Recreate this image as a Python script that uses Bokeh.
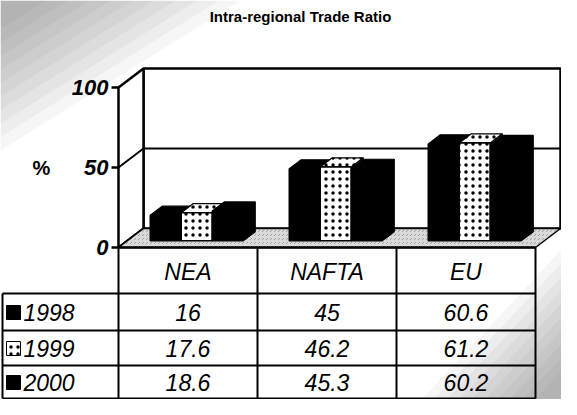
from bokeh.plotting import figure
from bokeh.models import Range1d
from bokeh.core.properties import value
from bokeh.embed import file_html
from bokeh.resources import INLINE

# ---------------- data ----------------
categories = ["NEA", "NAFTA", "EU"]
years = ["1998", "1999", "2000"]
v1998 = [16, 45, 60.6]
v1999 = [17.6, 46.2, 61.2]
v2000 = [18.6, 45.3, 60.2]
y_ticks = [0, 50, 100]
y_tick_labels = ["0", "50", "100"]
y_max = 100
title = "Intra-regional Trade Ratio"
y_title = "%"

# ---------------- layout (pixels) ----------------
W, H = 561, 399
PX_X = 139.0          # pixels per category
PX_Y = 1.6            # pixels per percent
X0 = 118              # front axis position (canvas px)
Y0 = 247              # zero line position (canvas px)
DEPTH_X, DEPTH_Y = 25, 19   # 3D depth offset (px)

DX = DEPTH_X / PX_X
DY = DEPTH_Y / PX_Y
FONT = value("Liberation Sans")

p = figure(width=W, height=H, output_backend="svg", toolbar_location=None,
           x_range=Range1d(-X0 / PX_X, (W - X0) / PX_X),
           y_range=Range1d(-(H - Y0) / PX_Y, Y0 / PX_Y),
           min_border=0)
p.axis.visible = False
p.grid.visible = False
p.outline_line_color = None
p.background_fill_color = "white"

n = len(categories)

def cy(py):  # canvas y px -> value units
    return (Y0 - py) / PX_Y

def cx(px):  # canvas x px -> category units
    return (px - X0) / PX_X

# background shading at corners (scan texture)
for k in range(10):
    s = 1 - k * 0.09
    p.patch([cx(0), cx(240 * s), cx(0)], [cy(0), cy(0), cy(150 * s)],
            fill_color="#555555", fill_alpha=0.05, line_color=None)
    p.patch([cx(W), cx(W - 140 * s), cx(W)], [cy(H), cy(H), cy(H - 150 * s)],
            fill_color="#555555", fill_alpha=0.05, line_color=None)

# ---- walls ----
LW = 2.5
p.patch([DX, n + DX, n + DX, DX], [DY, DY, y_max + DY, y_max + DY],
        fill_color="white", line_color="black", line_width=LW)
p.patch([0, DX, DX, 0], [0, DY, y_max + DY, y_max],
        fill_color="white", line_color="black", line_width=LW)
p.patch([0, n, n + DX, DX], [0, 0, DY, DY],
        fill_color="#dadada", line_color="black", line_width=1.5,
        hatch_pattern=",", hatch_color="#666666", hatch_scale=4, hatch_alpha=0.5)
p.line([0, n], [0, 0], line_color="black", line_width=LW)
for t in y_ticks[1:-1]:
    p.line([0, DX, n + DX], [t, t + DY, t + DY], line_color="black", line_width=2)

# ---- bars ----
F0 = 0.35     # depth fraction where bar fronts sit
FD = 0.48     # bar depth fraction
BW = 31 / PX_X
series = [v1998, v1999, v2000]
styles = [dict(fill_color="black"),
          dict(fill_color="white", hatch_pattern=".", hatch_color="black",
               hatch_scale=7, hatch_weight=1.2),
          dict(fill_color="black")]
for i in range(n):
    gc = i + 0.5 + F0 * DX
    base = F0 * DY
    for j, vals in enumerate(series):
        v = vals[i]
        xl = gc + (j - 1) * BW - BW / 2
        xr = xl + BW
        yt = base + v
        ddx, ddy = FD * DX, FD * DY
        st = styles[j]
        p.patch([xr, xr + ddx, xr + ddx, xr], [base, base + ddy, yt + ddy, yt],
                line_color="black", line_width=1.2, **st)
        p.patch([xl, xr, xr + ddx, xl + ddx], [yt, yt, yt + ddy, yt + ddy],
                line_color="black", line_width=1.2, **st)
        p.patch([xl, xr, xr, xl], [base, base, yt, yt],
                line_color="black", line_width=1.5, **st)

# ---- y axis ticks and labels ----
for t in y_ticks:
    p.line([cx(X0 - 7), 0], [t, t], line_color="black", line_width=LW)
p.text(x=[cx(X0 - 10)] * len(y_ticks), y=y_ticks, text=y_tick_labels,
       text_font=FONT, text_font_style="bold italic", text_font_size="22px",
       text_align="right", text_baseline="middle", text_color="black")
p.text(x=[cx(41)], y=[50], text=[y_title],
       text_font=FONT, text_font_style="bold", text_font_size="20px",
       text_align="center", text_baseline="middle", text_color="black")

# ---- title ----
p.text(x=[cx(300)], y=[cy(16)], text=[title],
       text_font=FONT, text_font_style="bold", text_font_size="15px",
       text_align="center", text_baseline="middle", text_color="black")

# ---- data table ----
HEAD_C = 271
ROW_LINES = [293, 330, 365, 398]
ROW_C = [312, 348, 382]
LEFT = cx(2)
FS = "23px"

p.text(x=[i + 0.5 for i in range(n)], y=[cy(HEAD_C)] * n, text=categories,
       text_font=FONT, text_font_style="italic", text_font_size=FS,
       text_align="center", text_baseline="middle", text_color="black")
for rl in ROW_LINES:
    p.line([LEFT, n], [cy(rl)] * 2, line_color="black", line_width=2)
for k in range(n + 1):
    p.line([k, k], [0, cy(ROW_LINES[-1])], line_color="black", line_width=2)
p.line([LEFT, LEFT], [cy(ROW_LINES[0]), cy(ROW_LINES[-1])],
       line_color="black", line_width=2)

for r, (yr, vals) in enumerate(zip(years, series)):
    yc = cy(ROW_C[r])
    st = styles[r]
    p.scatter(x=[cx(13)], y=[yc], marker="square", size=14,
              line_color="black", line_width=1, **st)
    p.text(x=[cx(23)], y=[yc], text=[yr],
           text_font=FONT, text_font_style="italic", text_font_size=FS,
           text_align="left", text_baseline="middle", text_color="black")
    p.text(x=[i + 0.5 for i in range(n)], y=[yc] * n,
           text=[("%g" % v) for v in vals],
           text_font=FONT, text_font_style="italic", text_font_size=FS,
           text_align="center", text_baseline="middle", text_color="black")

open("out.html", "w").write(file_html(p, INLINE))
